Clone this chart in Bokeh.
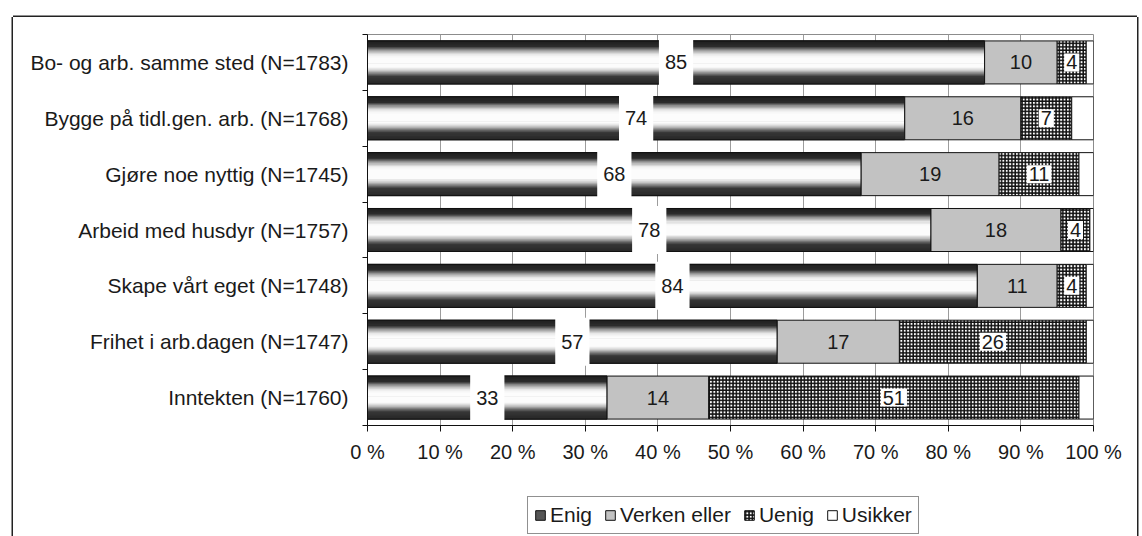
import numpy as np
from bokeh.plotting import figure
from bokeh.layouts import column
from bokeh.models import Range1d, FixedTicker, ColumnDataSource, Legend, LegendItem
from bokeh.core.properties import value
from bokeh.embed import file_html
from bokeh.resources import INLINE

# ---------------- data ----------------
categories = ["Bo- og arb. samme sted (N=1783)",
              "Bygge på tidl.gen. arb. (N=1768)",
              "Gjøre noe nyttig (N=1745)",
              "Arbeid med husdyr (N=1757)",
              "Skape vårt eget (N=1748)",
              "Frihet i arb.dagen (N=1747)",
              "Inntekten (N=1760)"]
enig = [85, 74, 68, 78, 84, 57, 33]
verken = [10, 16, 19, 18, 11, 17, 14]
uenig = [4, 7, 11, 4, 4, 26, 51]
usikker = [1, 3, 2, 0.5, 1, 1, 2]
series_names = ["Enig", "Verken eller", "Uenig", "Usikker"]
x_ticks = [0, 10, 20, 30, 40, 50, 60, 70, 80, 90, 100]

FONT = "Liberation Sans"
FS = "20px"
TXT = "#1a1a1a"

ENIG_LEG = "#555555"
VERKEN_C = "#c2c2c2"
FRAME = "1.5px"

n = len(categories)
pos = [n - i for i in range(n)]
tot = [e + v + u + s for e, v, u, s in zip(enig, verken, uenig, usikker)]
e_r = [e / t * 100 for e, t in zip(enig, tot)]
v_r = [(e + v) / t * 100 for e, v, t in zip(enig, verken, tot)]
u_r = [(e + v + u) / t * 100 for e, v, u, t in zip(enig, verken, uenig, tot)]

src = ColumnDataSource(dict(
    y=pos, e=e_r, v=v_r, u=u_r,
    ex=[r / 2 for r in e_r],
    vx=[(a + b) / 2 for a, b in zip(e_r, v_r)],
    ux=[(a + b) / 2 for a, b in zip(v_r, u_r)],
    et=[str(x) for x in enig], vt=[str(x) for x in verken], ut=[str(x) for x in uenig],
))

BAR_H = 0.77
W = 1124

p = figure(width=W, height=449, x_range=Range1d(0, 100), y_range=Range1d(0.5, n + 0.5),
           output_backend="svg", toolbar_location=None, title=None,
           min_border_left=354, min_border_right=44, min_border_top=17, min_border_bottom=41)
p.margin = (17, 0, 0, 13)
p.styles = {"box-shadow": f"-{FRAME} 0 0 0 #222, {FRAME} 0 0 0 #222, 0 -{FRAME} 0 0 #222"}
p.background_fill_color = "white"
p.border_fill_color = "white"
p.outline_line_color = "#8c8c8c"
p.outline_line_width = 1

# grid
p.ygrid.visible = False
p.xgrid.ticker = FixedTicker(ticks=x_ticks)
p.xgrid.grid_line_color = "#9c9c9c"
p.xgrid.grid_line_width = 1

# x axis
xa = p.xaxis[0]
xa.ticker = FixedTicker(ticks=x_ticks)
xa.major_label_overrides = {t: f"{t} %" for t in x_ticks}
xa.axis_line_color = "#111"
xa.major_tick_line_color = "#111"
xa.major_tick_out = 6
xa.major_tick_in = 0
xa.minor_tick_line_color = None
xa.major_label_standoff = 9
xa.major_label_text_font = FONT
xa.major_label_text_font_size = FS
xa.major_label_text_color = TXT

# y axis
ya = p.yaxis[0]
ya.ticker = FixedTicker(ticks=pos, minor_ticks=[k + 0.5 for k in range(n + 1)])
ya.major_label_overrides = {pv: c for pv, c in zip(pos, categories)}
ya.axis_line_color = "#111"
ya.major_tick_line_color = None
ya.major_tick_out = 0
ya.major_tick_in = 0
ya.minor_tick_line_color = "#111"
ya.minor_tick_out = 5
ya.minor_tick_in = 0
ya.major_label_standoff = 14
ya.major_label_text_font = FONT
ya.major_label_text_font_size = "21px"
ya.major_label_text_color = TXT

# ---- Enig: base + cylinder-like shading strips ----
p.hbar(y="y", left=0, right="e", height=BAR_H, source=src,
       fill_color=ENIG_LEG, line_color="#111111", line_width=1)

N = 40
t = (np.arange(N) + 0.5) / N
lev = np.interp(t, [0.0, 0.14, 0.22, 0.32, 0.40, 0.62, 0.70, 0.78, 0.84, 1.0],
                [30, 45, 150, 235, 252, 252, 200, 110, 55, 40])
cols = ["#%02x%02x%02x" % (int(l), int(l), int(l)) for l in lev]
sy, sr, sc = [], [], []
for yy, rr in zip(pos, e_r):
    for k in range(N):
        sy.append(yy + BAR_H / 2 - (k + 0.5) * BAR_H / N)
        sr.append(rr)
        sc.append(cols[k])
strip_src = ColumnDataSource(dict(y=sy, right=sr, color=sc))
p.hbar(y="y", left=0, right="right", height=BAR_H / N * 1.6, source=strip_src,
       fill_color="color", line_color=None)
p.hbar(y="y", left=0, right="e", height=BAR_H, source=src,
       fill_color=None, line_color="#111111", line_width=1)

HATCH = dict(hatch_pattern="+", hatch_scale=3.4, hatch_weight=1.6, hatch_color="#111111")

p.hbar(y="y", left="e", right="v", height=BAR_H, source=src,
       fill_color=VERKEN_C, line_color="#111111", line_width=1)
p.hbar(y="y", left="v", right="u", height=BAR_H, source=src,
       fill_color="white", line_color="#111111", line_width=1, **HATCH)
p.hbar(y="y", left="u", right=100, height=BAR_H, source=src,
       fill_color="white", line_color="#111111", line_width=1)

# ---- data labels ----
p.text(x="ex", y="y", text="et", source=src, text_align="center", text_baseline="middle",
       text_font=value(FONT), text_font_size=FS, text_color=TXT,
       background_fill_color="white", padding=dict(left=6, right=6, top=17, bottom=17))
p.text(x="vx", y="y", text="vt", source=src, text_align="center", text_baseline="middle",
       text_font=value(FONT), text_font_size=FS, text_color=TXT)
p.text(x="ux", y="y", text="ut", source=src, text_align="center", text_baseline="middle",
       text_font=value(FONT), text_font_size=FS, text_color=TXT,
       background_fill_color="white", padding=dict(left=2, right=2, top=2, bottom=2))

# ---- legend strip (separate small figure under the chart) ----
lg = figure(width=W, height=70, x_range=Range1d(0, 1), y_range=Range1d(0, 1),
            output_backend="svg", toolbar_location=None, title=None,
            min_border_left=354, min_border_right=44, min_border_top=0, min_border_bottom=0,
            x_axis_location=None, y_axis_location=None)
lg.margin = (0, 0, 0, 13)
lg.styles = {"box-shadow": f"-{FRAME} 0 0 0 #222, {FRAME} 0 0 0 #222"}
lg.grid.visible = False
lg.outline_line_color = None
lg.background_fill_color = "white"
lg.border_fill_color = "white"
l1 = lg.hbar(y="y", right="e", height=1, source=src, fill_color=ENIG_LEG, line_color="#111111")
l2 = lg.hbar(y="y", right="e", height=1, source=src, fill_color=VERKEN_C, line_color="#111111")
l3 = lg.hbar(y="y", right="e", height=1, source=src, fill_color="white", line_color="#111111", **HATCH)
l4 = lg.hbar(y="y", right="e", height=1, source=src, fill_color="white", line_color="#111111")
for r in (l1, l2, l3, l4):
    r.visible = False
legend = Legend(items=[LegendItem(label=series_names[0], renderers=[l1]),
                       LegendItem(label=series_names[1], renderers=[l2]),
                       LegendItem(label=series_names[2], renderers=[l3]),
                       LegendItem(label=series_names[3], renderers=[l4])],
                orientation="horizontal", location=(160, 2))
legend.inactive_fill_alpha = 0
legend.border_line_color = "#222"
legend.border_line_width = 1
legend.background_fill_color = "white"
legend.background_fill_alpha = 1
legend.label_text_font = FONT
legend.label_text_font_size = "21px"
legend.label_text_color = TXT
legend.glyph_width = 12
legend.glyph_height = 12
legend.label_standoff = 4
legend.spacing = 12
legend.padding = 6
legend.margin = 0
lg.add_layout(legend)

root = column(p, lg, spacing=0)

open("out.html", "w").write(file_html(root, INLINE))
